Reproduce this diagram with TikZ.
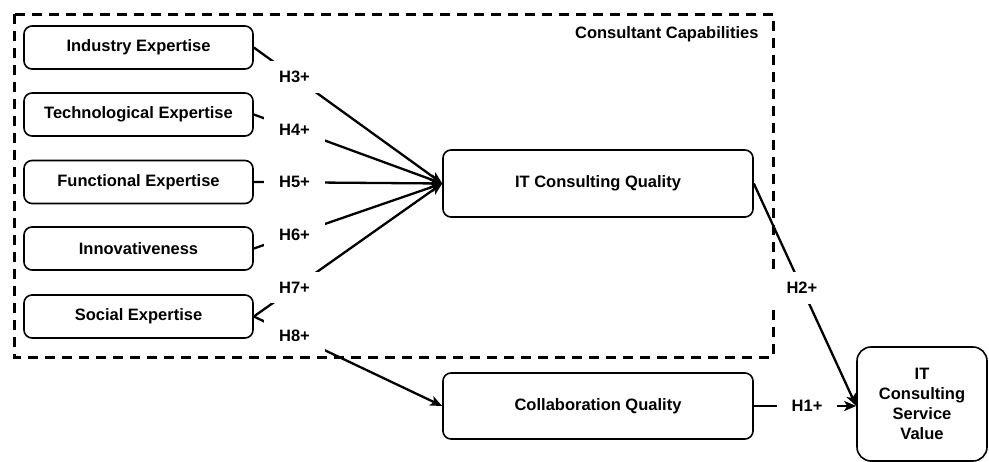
\documentclass[tikz,border=0pt]{standalone}
\usepackage{fontspec}
\setmainfont{Liberation Sans}
\usetikzlibrary{arrows.meta}

\begin{document}
\begin{tikzpicture}[x=1pt,y=-1pt,font=\bfseries\fontsize{16.5}{20}\selectfont,>={Stealth[length=12pt,width=10pt,inset=3pt]}]
    \tikzstyle{construct}=[draw,rounded corners=8pt,line width=1.6pt,align=center,minimum width=229pt,minimum height=43pt]
    \tikzstyle{hyp}=[fill=white,inner xsep=15pt,inner ysep=10pt]
    \tikzstyle{link}=[line width=2.3pt]
    \useasboundingbox (0,0) rectangle (989,461);
    \draw[line width=3pt,dash pattern=on 10pt off 7pt] (14,14) rectangle (773,357);
    \node[anchor=east] (cap) at (762,34) {Consultant Capabilities};
    \node[construct] (ind) at (138.5,47.5) {Industry Expertise};
    \node[construct] (tech) at (138.5,114.5) {Technological Expertise};
    \node[construct] (func) at (138.5,182) {Functional Expertise};
    \node[construct] (inno) at (138.5,248.5) {Innovativeness};
    \node[construct] (soc) at (138.5,316.5) {Social Expertise};
    \node[construct,minimum width=310pt,minimum height=67pt] (icq) at (598,183.5) {IT Consulting Quality};
    \node[construct,minimum width=310pt,minimum height=66pt] (cq) at (598,406) {Collaboration Quality};
    \node[construct,minimum width=130pt,minimum height=114pt,rounded corners=14pt] (vsv) at (922,404) {IT\\Consulting\\Service\\Value};
    \draw[link,->] (ind.east) -- node[hyp,pos=0.216] {H3+} (icq.west);
    \draw[link,->] (tech.east) -- node[hyp,pos=0.216] {H4+} (icq.west);
    \draw[link,->] (func.east) -- node[hyp,pos=0.216] {H5+} (icq.west);
    \draw[link,->] (inno.east) -- node[hyp,pos=0.216] {H6+} (icq.west);
    \draw[link,->] (soc.east) -- node[hyp,pos=0.216] {H7+} (icq.west);
    \draw[link,->] (soc.east) -- node[hyp,pos=0.216] {H8+} (cq.west);
    \draw[link,->] (icq.east) -- node[hyp,pos=0.47] {H2+} (cq.east -| vsv.west);
    \draw[link,->] (cq.east) -- node[hyp,pos=0.52] {H1+} (cq.east -| vsv.west);
\end{tikzpicture}
\end{document}
